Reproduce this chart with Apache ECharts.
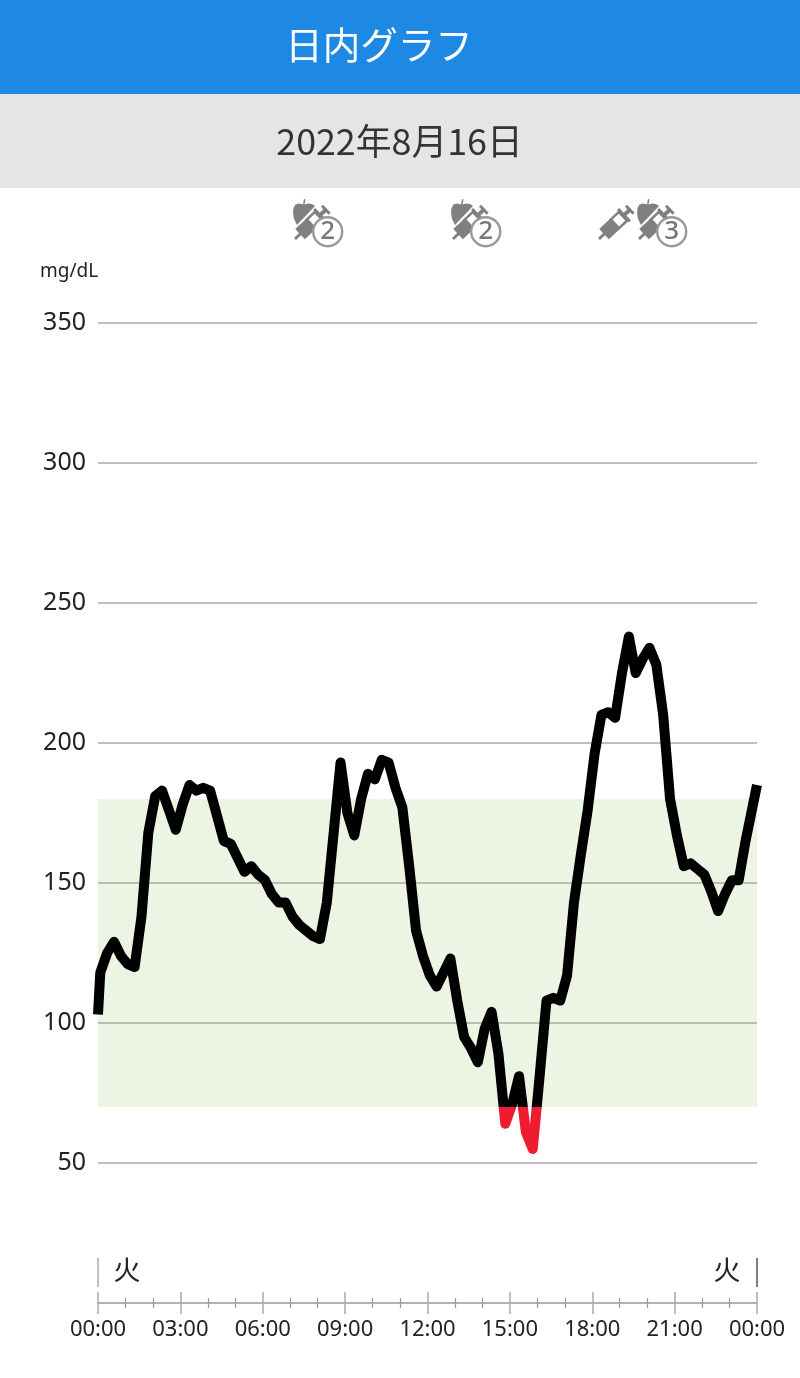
<!DOCTYPE html>
<html><head><meta charset="utf-8">
<style>html,body{margin:0;padding:0;background:#fff}#c{width:800px;height:1378px}</style>
<script src="https://cdn.jsdelivr.net/npm/echarts@6/dist/echarts.min.js"></script>
</head><body><div id="c"></div>
<script>
const titleText = '日内グラフ';
const dateText = '2022年8月16日';
const unitText = 'mg/dL';
const dayLabel = '火';
const targetLow = 70;
const targetHigh = 180;
const yTicks = [50, 100, 150, 200, 250, 300, 350];
const readingMinutes = [0,5,20,35,50,65,80,95,110,125,140,155,170,185,200,215,230,245,260,275,290,305,320,335,350,365,380,395,410,425,440,455,470,485,500,515,530,545,560,575,590,605,620,635,650,665,680,695,710,725,740,755,770,785,800,815,830,845,860,875,890,905,920,935,950,965,980,995,1010,1025,1040,1055,1070,1085,1100,1115,1130,1145,1160,1175,1190,1205,1220,1235,1250,1265,1280,1295,1310,1325,1340,1355,1370,1385,1400,1415,1440];
const glucose = [103,118,125,129,124,121,120,138,168,181,183,176,169,178,185,183,184,183,174,165,164,159,154,156,153,151,146,143,143,138,135,133,131,130,143,168,193,175,167,180,189,187,194,193,184,177,156,133,124,117,113,118,123,108,95,91,86,98,104,89,64,71,81,61,55,81,108,109,108,117,143,160,176,196,210,211,209,225,238,225,230,234,228,210,180,167,156,157,155,153,147,140,146,151,151,165,185];
// icon groups along the top: [x of group, has standalone insulin, count]
const mealMarks = [[293, false, '2'], [451, false, '2'], [637, true, '3']];

const GREY = '#808080';
const fontFam = '"Noto Sans CJK JP","Noto Sans",sans-serif';

function syringe(x, y) {
  return { type: 'group', x: x, y: y, rotation: 0.76, children: [
    { type: 'rect', shape: { x: 0, y: -1.5, width: 8, height: 3 }, style: { fill: GREY } },
    { type: 'rect', shape: { x: 7, y: -7, width: 15, height: 14 }, style: { fill: GREY } },
    { type: 'rect', shape: { x: 22, y: -6, width: 11, height: 12 }, style: { fill: '#fff', stroke: GREY, lineWidth: 2.5 } },
    { type: 'rect', shape: { x: 33, y: -8.5, width: 3, height: 17 }, style: { fill: GREY } },
    { type: 'rect', shape: { x: 35, y: -2, width: 7, height: 4 }, style: { fill: GREY } },
    { type: 'rect', shape: { x: 41, y: -5.5, width: 3, height: 11 }, style: { fill: GREY } }
  ]};
}
function mealIcon(ox, n) {
  const oy = 198;
  return [
    { type: 'polygon', x: ox, y: oy, shape: { points: [[0.5,10],[2.5,6.5],[6,5.5],[10,6.5],[11,1],[12.5,1.5],[11.5,6.5],[15,5.5],[19,6],[22,8],[4,27],[1,21],[0,15]] }, style: { fill: GREY } },
    syringe(ox + 2, oy + 41),
    { type: 'circle', shape: { cx: ox + 34.7, cy: oy + 33.7, r: 14.5 }, style: { fill: '#fff', stroke: '#999', lineWidth: 2.4 } },
    { type: 'text', x: ox + 34.7, y: oy + 33.7, style: { text: n, fill: '#777', font: '500 26px "Noto Sans"', textAlign: 'center', textVerticalAlign: 'middle' } }
  ];
}

const graphics = [
  { type: 'rect', shape: { x: 0, y: 0, width: 800, height: 94 }, style: { fill: '#1e88e5' } },
  { type: 'rect', shape: { x: 0, y: 94, width: 800, height: 94 }, style: { fill: '#e5e5e5' } },
  { type: 'text', x: 379, y: 45, style: { text: titleText, fill: '#fff', font: '37.5px ' + fontFam, textAlign: 'center', textVerticalAlign: 'middle' } },
  { type: 'text', x: 399.5, y: 141, style: { text: dateText, fill: '#333', font: '35.8px ' + fontFam, textAlign: 'center', textVerticalAlign: 'middle' } },
  { type: 'text', x: 40, y: 272, style: { text: unitText, fill: '#222', font: '19px "Noto Sans"', textAlign: 'left', textVerticalAlign: 'middle' } },
  { type: 'line', shape: { x1: 98, y1: 1258, x2: 98, y2: 1287 }, style: { stroke: '#aaa', lineWidth: 1.5 } },
  { type: 'line', shape: { x1: 757, y1: 1258, x2: 757, y2: 1287 }, style: { stroke: '#555', lineWidth: 1.5 } },
  { type: 'text', x: 127, y: 1270, style: { text: dayLabel, fill: '#222', font: '27px ' + fontFam, textAlign: 'center', textVerticalAlign: 'middle' } },
  { type: 'text', x: 727, y: 1270, style: { text: dayLabel, fill: '#222', font: '27px ' + fontFam, textAlign: 'center', textVerticalAlign: 'middle' } }
];
mealMarks.forEach(function (m) {
  if (m[1]) graphics.push(syringe(m[0] - 38, 239));
  mealIcon(m[0], m[2]).forEach(function (g) { graphics.push(g); });
});

const chart = echarts.init(document.getElementById('c'), null, { renderer: 'canvas' });
const timeLabel = function (v) { const h = (v / 60) % 24; return (h < 10 ? '0' : '') + h + ':00'; };
chart.setOption({
  animation: false,
  backgroundColor: '#fff',
  graphic: graphics,
  grid: [
    { left: 98, width: 659, top: 323, height: 840 },
    { left: 98, width: 659, top: 1303, height: 0 }
  ],
  xAxis: [
    { gridIndex: 0, type: 'value', min: 0, max: 1440, show: false },
    { gridIndex: 1, type: 'value', position: 'bottom', min: 0, max: 1440, interval: 180,
      splitLine: { show: false },
      axisLine: { lineStyle: { color: '#999', width: 1.5 } },
      axisTick: { length: 11, lineStyle: { color: '#aaa', width: 1.5 } },
      minorTick: { show: true, splitNumber: 3, length: 5, lineStyle: { color: '#999', width: 1.2 } },
      axisLabel: { formatter: timeLabel, fontSize: 22, color: '#222', margin: 16, fontFamily: '"Noto Sans"', hideOverlap: false, showMinLabel: true, showMaxLabel: true } },
    { gridIndex: 1, type: 'value', position: 'top', min: 0, max: 1440, interval: 180,
      splitLine: { show: false },
      axisLine: { show: false },
      axisTick: { length: 11, lineStyle: { color: '#aaa', width: 1.5 } },
      minorTick: { show: true, splitNumber: 3, length: 5, lineStyle: { color: '#999', width: 1.2 } },
      axisLabel: { show: false } }
  ],
  yAxis: [
    { gridIndex: 0, type: 'value', min: yTicks[0], max: yTicks[yTicks.length - 1], interval: 50,
      axisLine: { show: false }, axisTick: { show: false },
      splitLine: { lineStyle: { color: '#aaa', width: 1.5 } },
      axisLabel: { fontSize: 25, color: '#222', margin: 12, fontFamily: '"Noto Sans"', padding: [0, 0, 2, 0] } },
    { gridIndex: 1, type: 'value', min: 0, max: 1, show: false }
  ],
  visualMap: { show: false, seriesIndex: 0, dimension: 1,
    pieces: [{ min: 0, max: targetLow, color: '#ee1c2e' }, { min: targetLow, max: 400, color: '#000' }] },
  series: [{
    type: 'line', xAxisIndex: 0, yAxisIndex: 0, showSymbol: false, smooth: false, clip: true,
    data: readingMinutes.map(function (t, i) { return [t, glucose[i]]; }),
    lineStyle: { width: 10, join: 'round', cap: 'butt' },
    markArea: { silent: true, itemStyle: { color: 'rgba(160,205,120,0.2)' },
      data: [[{ yAxis: targetLow }, { yAxis: targetHigh }]] }
  }]
});
</script></body></html>
